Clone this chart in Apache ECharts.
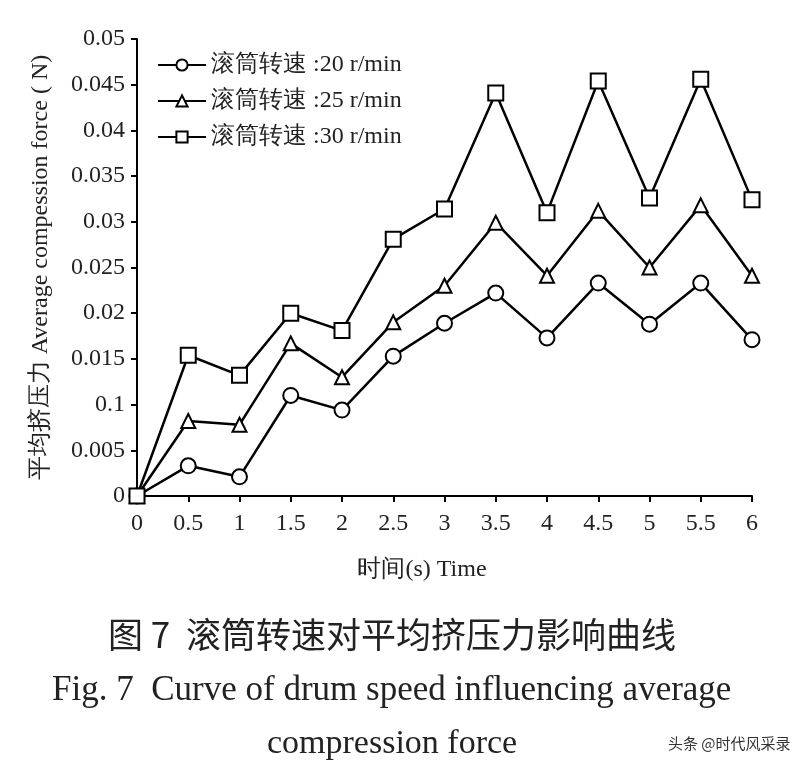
<!DOCTYPE html>
<html><head><meta charset="utf-8">
<script src="https://cdn.jsdelivr.net/npm/echarts@6/dist/echarts.min.js"></script>
<style>html,body{margin:0;padding:0;background:#fff}#c{width:795px;height:776px}</style>
</head><body><div id="c"></div>
<script>
var times = [0,0.5,1,1.5,2,2.5,3,3.5,4,4.5,5,5.5,6];
var speed20 = [0,0.0033,0.0021,0.0110,0.0094,0.0153,0.0189,0.0222,0.0173,0.0233,0.0188,0.0233,0.0171];
var speed25 = [0,0.0082,0.0078,0.0167,0.0130,0.0190,0.0230,0.0299,0.0241,0.0312,0.0250,0.0318,0.0241];
var speed30 = [0,0.0154,0.0132,0.0200,0.0181,0.0281,0.0314,0.0441,0.0310,0.0454,0.0326,0.0456,0.0324];
var seriesNames = ['滚筒转速 :20 r/min','滚筒转速 :25 r/min','滚筒转速 :30 r/min'];
var yTickLabels = ['0','0.005','0.1','0.015','0.02','0.025','0.03','0.035','0.04','0.045','0.05'];

function pairs(v){ return times.map(function(t,i){return [t,v[i]];}); }
var serif = '"Liberation Serif","DejaVu Serif",serif';
var cjk = '"Noto Sans CJK SC",sans-serif';
function mk(name, data, sym, size){
  return {type:'line', name:name, data:pairs(data), symbol:sym, symbolSize:size,
    lineStyle:{color:'#000',width:2.5}, itemStyle:{color:'#fff',borderColor:'#000',borderWidth:2},
    emphasis:{disabled:true}, z: 3};
}
var chart = echarts.init(document.getElementById('c'), null, {renderer:'canvas'});
chart.setOption({
  animation:false,
  backgroundColor:'#fff',
  grid:{left:137,right:43,top:39,bottom:280,containLabel:false},
  legend:{left:152,top:48,orient:'vertical',itemWidth:48,itemHeight:14,itemGap:12,
    textStyle:{fontFamily:serif,fontSize:24,color:'#222'}, data:seriesNames, selectedMode:false},
  xAxis:{type:'value',min:0,max:6,interval:0.5,
    axisLine:{show:true,lineStyle:{color:'#000',width:2}},
    axisTick:{show:true,inside:false,length:6,lineStyle:{color:'#000',width:2}},
    axisLabel:{fontFamily:serif,fontSize:24,color:'#222',margin:16},
    splitLine:{show:false},
    name:'时间(s) Time',nameLocation:'middle',nameGap:62,
    nameTextStyle:{fontFamily:serif,fontSize:24,color:'#222',padding:[0,45,0,0]}},
  yAxis:{type:'value',min:0,max:0.05,interval:0.005,
    axisLine:{show:true,lineStyle:{color:'#000',width:2}},
    axisTick:{show:true,inside:false,length:6,lineStyle:{color:'#000',width:2}},
    axisLabel:{fontFamily:serif,fontSize:24,color:'#222',margin:12,
      formatter:function(v){var i=Math.round(v/0.005);return yTickLabels[i]!==undefined?yTickLabels[i]:'';}},
    splitLine:{show:false},
    name:'平均挤压力 Average compession force ( N)',nameLocation:'middle',nameGap:84,nameRotate:90,
    nameTextStyle:{fontFamily:serif,fontSize:24,color:'#222'}},
  series:[mk(seriesNames[0],speed20,'circle',15),mk(seriesNames[1],speed25,'triangle',14),mk(seriesNames[2],speed30,'rect',15)],
  graphic:[
    {type:'text',left:108,top:617,style:{text:'图 7  滚筒转速对平均挤压力影响曲线',font:'35px '+cjk,fill:'#222'}},
    {type:'text',left:52,top:673,style:{text:'Fig. 7  Curve of drum speed influencing average',font:'35px '+serif,fill:'#222'}},
    {type:'text',left:267,top:727,style:{text:'compression force',font:'34px '+serif,fill:'#222'}},
    {type:'text',left:668,top:736,style:{text:'头条 @时代风采录',font:'15px '+cjk,fill:'#333'}}
  ]
});
</script></body></html>
